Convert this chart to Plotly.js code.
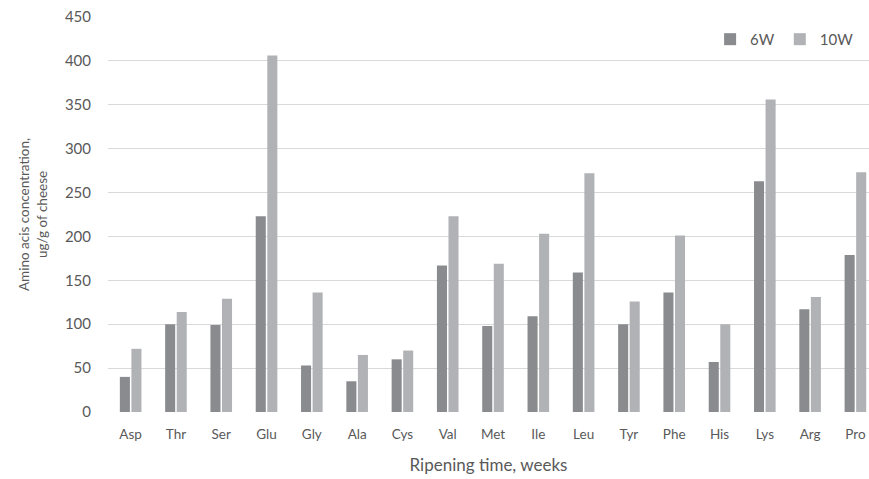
<!DOCTYPE html>
<html>
<head>
<meta charset="utf-8">
<script src="https://cdn.plot.ly/plotly-3.0.1.min.js"></script>
<style>html,body{margin:0;padding:0;background:#fff;}#chart{width:869px;height:479px;}</style>
</head>
<body>
<div id="chart"></div>
<script>
const categories = ["Asp","Thr","Ser","Glu","Gly","Ala","Cys","Val","Met","Ile","Leu","Tyr","Phe","His","Lys","Arg","Pro"];
const w6 = [40, 100, 99, 223, 53, 35, 60, 167, 98, 109, 159, 100, 136, 57, 263, 117, 179];
const w10 = [72, 114, 129, 406, 136, 65, 70, 223, 169, 203, 272, 126, 201, 100, 356, 131, 273];
const yTicks = [0, 50, 100, 150, 200, 250, 300, 350, 400, 450];

const fam = "Lato, 'Open Sans', sans-serif";
const grey = "#595959";

const traces = [
  {type: "bar", name: "6W", x: categories, y: w6, marker: {color: "#8a8b8f", line: {width: 0}}},
  {type: "bar", name: "10W", x: categories, y: w10, marker: {color: "#b1b2b5", line: {width: 0}}}
];

const layout = {
  width: 869, height: 479,
  margin: {l: 108, r: 0, t: 17, b: 67},
  paper_bgcolor: "#fff", plot_bgcolor: "#fff",
  font: {family: fam, size: 13, color: grey},
  barmode: "group",
  bargap: 0.49,
  bargroupgap: 0.13,
  showlegend: true,
  legend: {orientation: "h", x: 0.987, xanchor: "right", y: 0.985, yanchor: "top",
           font: {family: fam, size: 15, color: grey}, itemwidth: 30, traceorder: "normal"},
  xaxis: {
    range: [-0.5, 16.3],
    showgrid: false, zeroline: false, showline: false,
    ticks: "", ticklabelstandoff: 12,
    tickfont: {family: fam, size: 13.5, color: grey},
    title: {text: "Ripening time, weeks", font: {family: fam, size: 17, color: grey}, standoff: 18}
  },
  yaxis: {
    range: [0, 450],
    tickvals: yTicks,
    showgrid: true, gridcolor: "#d9d9d9", gridwidth: 1,
    zeroline: false, showline: false, ticks: "",
    ticklabelstandoff: 16,
    tickfont: {family: fam, size: 15, color: grey},
    title: {text: "Amino acis concentration,<br>ug/g of cheese", font: {family: fam, size: 13.5, color: grey}, standoff: 14}
  }
};

Plotly.newPlot("chart", traces, layout, {displayModeBar: false, staticPlot: true});
</script>
</body>
</html>
